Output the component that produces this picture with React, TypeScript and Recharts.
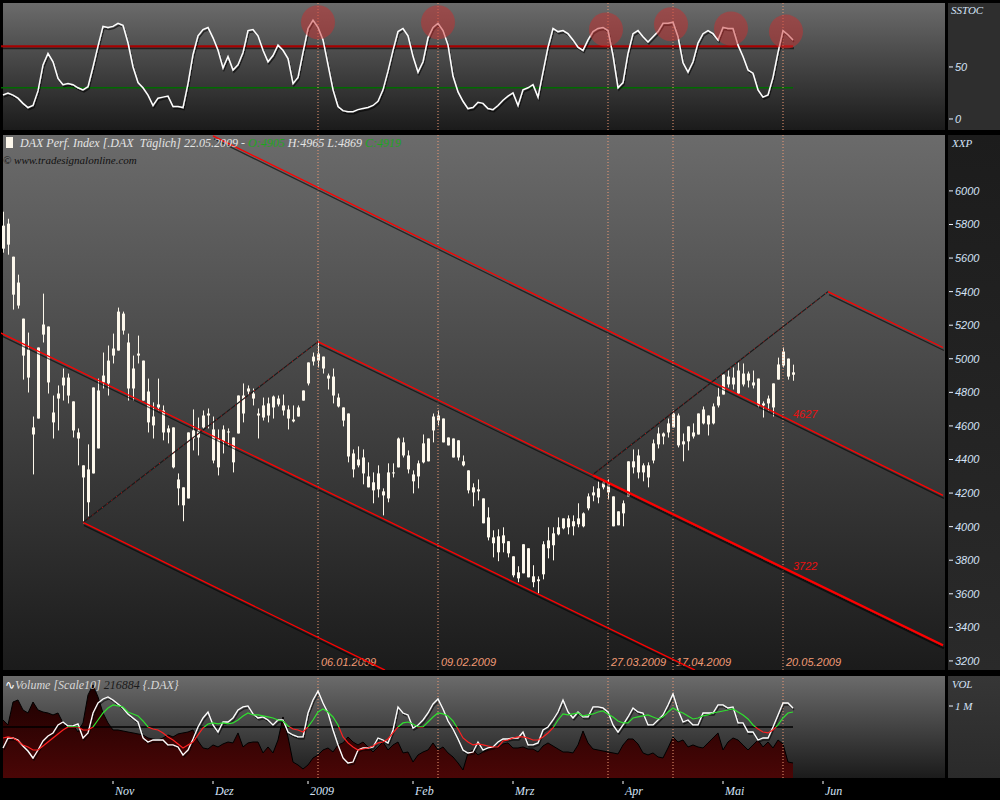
import React from 'react';
import { ComposedChart, Line, Bar, Area, XAxis, YAxis, ReferenceLine, ReferenceDot } from 'recharts';

// x = trading-day index, 0 = first bar (early Oct 2008), 158 = 22.05.2009
const opens = [
  5793, 5805, 5608, 5454, 5239, 5055, 4591, 4644, 5204, 5192,
  4680, 4793, 4888, 4888, 4746, 4561, 4365, 4341, 4317, 4466,
  4900, 4853, 5019, 5049, 5269, 5097, 4942, 5031, 4989, 4805,
  4656, 4728, 4692, 4585, 4591, 4281, 4234, 4168, 4573, 4573,
  4591, 4662, 4579, 4519, 4508, 4567, 4531, 4555, 4781, 4805,
  4793, 4674, 4650, 4662, 4710, 4763, 4722, 4698, 4638, 4656,
  4751, 4853, 4984, 5031, 5013, 4900, 4894, 4769, 4710, 4674,
  4436, 4365, 4412, 4299, 4264, 4222, 4210, 4168, 4323, 4353,
  4502, 4424, 4311, 4299, 4383, 4389, 4573, 4662, 4644, 4531,
  4525, 4514, 4389, 4335, 4234, 4222, 4168, 4055, 3936, 3942,
  3948, 3913, 3823, 3728, 3722, 3871, 3704, 3686, 3716, 3871,
  3889, 3954, 3990, 4049, 4002, 4014, 4002, 4109, 4186, 4174,
  4234, 4258, 4180, 4091, 4079, 4180, 4389, 4323, 4365, 4365,
  4394, 4490, 4537, 4561, 4591, 4662, 4490, 4508, 4561, 4549,
  4698, 4609, 4615, 4722, 4787, 4894, 4847, 4930, 4847, 4912,
  4859, 4882, 4722, 4734, 4710, 4876, 4960, 5001, 4905,
];
const highs = [
  5876, 5834, 5608, 5501, 5239, 5156, 4656, 5067, 5388, 5192,
  4781, 4841, 4942, 4912, 4746, 4585, 4365, 4490, 4829, 4882,
  5037, 5079, 5150, 5305, 5281, 5150, 5019, 5138, 4989, 4882,
  4740, 4882, 4722, 4603, 4591, 4317, 4234, 4561, 4698, 4650,
  4692, 4704, 4656, 4579, 4603, 4585, 4531, 4781, 4853, 4841,
  4823, 4704, 4769, 4769, 4781, 4781, 4787, 4722, 4722, 4722,
  4811, 4978, 5037, 5108, 5013, 4912, 4942, 4793, 4710, 4674,
  4460, 4478, 4460, 4383, 4323, 4365, 4228, 4377, 4377, 4531,
  4531, 4454, 4335, 4394, 4549, 4525, 4674, 4692, 4644, 4531,
  4525, 4514, 4424, 4335, 4258, 4281, 4168, 4115, 3978, 3984,
  3996, 3913, 3823, 3764, 3895, 3871, 3770, 3704, 3913, 3996,
  3996, 4055, 4049, 4067, 4067, 4139, 4085, 4198, 4240, 4270,
  4270, 4281, 4180, 4091, 4156, 4389, 4460, 4460, 4377, 4383,
  4519, 4591, 4561, 4644, 4692, 4674, 4555, 4597, 4615, 4674,
  4716, 4662, 4734, 4829, 4906, 4930, 4948, 4978, 4972, 4924,
  4930, 4882, 4746, 4781, 4853, 5007, 5067, 5001, 4965,
];
const lows = [
  5632, 5620, 5293, 5299, 4876, 4799, 4311, 4644, 5097, 4793,
  4525, 4573, 4751, 4734, 4531, 4365, 4020, 4061, 4317, 4466,
  4823, 4781, 4972, 5049, 5144, 4751, 4751, 4972, 4751, 4561,
  4525, 4692, 4514, 4496, 4347, 4127, 4032, 4168, 4454, 4424,
  4585, 4585, 4377, 4305, 4436, 4484, 4323, 4555, 4621, 4781,
  4722, 4525, 4632, 4621, 4644, 4716, 4662, 4579, 4621, 4656,
  4751, 4841, 4960, 4948, 4912, 4817, 4734, 4710, 4597, 4383,
  4293, 4353, 4252, 4234, 4139, 4174, 4067, 4145, 4293, 4353,
  4412, 4317, 4198, 4228, 4377, 4389, 4502, 4603, 4502, 4484,
  4412, 4394, 4359, 4198, 4121, 4156, 4020, 3918, 3817, 3794,
  3847, 3817, 3698, 3669, 3722, 3698, 3639, 3603, 3686, 3811,
  3799, 3948, 3984, 3954, 3948, 3996, 3996, 4097, 4151, 4139,
  4222, 4162, 4002, 4008, 4002, 4180, 4317, 4287, 4270, 4234,
  4377, 4466, 4490, 4531, 4591, 4472, 4389, 4454, 4525, 4549,
  4609, 4543, 4609, 4710, 4787, 4829, 4817, 4793, 4835, 4829,
  4823, 4710, 4650, 4692, 4656, 4876, 4948, 4876, 4869,
];
const closes = [
  5656, 5680, 5382, 5317, 5019, 4888, 4549, 5067, 5144, 4859,
  4621, 4763, 4841, 4781, 4573, 4525, 4293, 4145, 4829, 4811,
  4859, 4989, 5061, 5281, 5168, 4823, 4823, 5019, 4751, 4621,
  4603, 4710, 4561, 4561, 4353, 4228, 4127, 4561, 4525, 4531,
  4662, 4674, 4394, 4353, 4579, 4561, 4383, 4781, 4674, 4823,
  4763, 4662, 4722, 4734, 4775, 4728, 4692, 4644, 4627, 4710,
  4811, 4978, 5013, 4989, 4942, 4882, 4781, 4716, 4632, 4418,
  4341, 4400, 4317, 4234, 4216, 4317, 4186, 4323, 4317, 4525,
  4424, 4341, 4270, 4377, 4496, 4525, 4656, 4632, 4502, 4484,
  4412, 4412, 4365, 4216, 4204, 4210, 4020, 3936, 3901, 3847,
  3901, 3841, 3710, 3692, 3895, 3698, 3669, 3675, 3895, 3918,
  3960, 3996, 4049, 3996, 4032, 4049, 4079, 4180, 4204, 4228,
  4264, 4204, 4002, 4008, 4139, 4389, 4353, 4424, 4323, 4293,
  4496, 4555, 4555, 4615, 4674, 4484, 4508, 4597, 4537, 4674,
  4615, 4662, 4716, 4775, 4906, 4847, 4888, 4793, 4912, 4870,
  4841, 4722, 4734, 4763, 4853, 4966, 5043, 4894, 4919,
];

// slow stochastic
const sstoc = [
  23, 25, 23, 20, 15, 11, 13, 27, 52, 63,
  55, 39, 33, 34, 33, 30, 28, 31, 50, 70,
  89, 88, 89, 92, 90, 73, 50, 35, 30, 23,
  13, 20, 21, 22, 12, 12, 11, 34, 62, 80,
  86, 88, 78, 66, 49, 60, 47, 52, 64, 85,
  86, 80, 66, 55, 61, 71, 66, 58, 34, 40,
  64, 87, 95, 88, 76, 52, 28, 12, 8, 7,
  7, 9, 10, 11, 13, 17, 28, 46, 66, 84,
  87, 80, 60, 45, 55, 78, 88, 92, 85, 71,
  41, 26, 17, 10, 11, 16, 15, 10, 9, 13,
  18, 22, 25, 13, 28, 30, 33, 21, 45, 69,
  87, 84, 85, 82, 76, 69, 66, 76, 84, 87,
  88, 85, 61, 30, 35, 63, 82, 85, 79, 74,
  79, 84, 92, 92, 93, 79, 54, 45, 55, 73,
  82, 85, 82, 76, 88, 87, 87, 71, 60, 47,
  44, 28, 21, 23, 40, 64, 85, 81, 76,
];

// volume in thousands
const volume = [
  806, 737, 1056, 1084, 945, 903, 1056, 945, 917, 903,
  876, 903, 765, 695, 737, 639, 765, 1154, 1293, 1126,
  903, 765, 667, 667, 653, 639, 626, 612, 598, 556,
  542, 528, 556, 598, 570, 612, 626, 639, 667, 514,
  417, 403, 459, 431, 473, 500, 487, 626, 431, 487,
  500, 500, 348, 431, 348, 528, 848, 570, 222, 181,
  125, 181, 278, 320, 389, 417, 361, 459, 487, 570,
  500, 459, 500, 431, 361, 431, 500, 389, 459, 500,
  348, 361, 222, 320, 361, 389, 487, 389, 431, 348,
  292, 209, 111, 348, 389, 320, 361, 403, 431, 417,
  473, 487, 417, 417, 431, 403, 403, 361, 445, 487,
  445, 403, 361, 361, 348, 459, 653, 487, 403, 389,
  375, 361, 348, 334, 459, 542, 542, 473, 348, 320,
  348, 292, 278, 417, 570, 500, 528, 431, 459, 431,
  417, 487, 556, 626, 389, 500, 556, 528, 459, 389,
  459, 528, 431, 500, 417, 528, 473, 222, 209,
];
const volLine = [
  417, 556, 556, 528, 445, 375, 278, 389, 514, 584,
  626, 737, 778, 723, 723, 751, 556, 626, 903, 1042,
  1098, 1126, 1084, 1029, 973, 890, 834, 778, 556, 500,
  528, 528, 528, 459, 459, 431, 320, 389, 542, 709,
  834, 917, 737, 639, 778, 778, 834, 945, 987, 1001,
  890, 834, 848, 806, 737, 806, 806, 639, 598, 570,
  570, 903, 1084, 1209, 1042, 903, 667, 459, 278, 209,
  222, 389, 417, 417, 431, 556, 528, 487, 667, 987,
  903, 876, 695, 737, 806, 903, 1029, 1098, 959, 792,
  681, 542, 389, 348, 361, 500, 389, 417, 431, 500,
  542, 542, 556, 556, 639, 459, 459, 487, 667, 709,
  806, 917, 1084, 917, 834, 917, 848, 848, 987, 987,
  973, 917, 737, 639, 737, 848, 973, 917, 903, 737,
  737, 806, 876, 1015, 1168, 945, 778, 806, 737, 737,
  903, 903, 903, 1015, 1015, 973, 987, 765, 765, 639,
  639, 528, 556, 556, 709, 876, 1042, 1042, 973,
];
const volAvg = [
  556, 570, 556, 514, 459, 431, 389, 389, 445, 500,
  556, 612, 667, 709, 709, 709, 667, 667, 709, 806,
  903, 973, 1015, 1001, 987, 917, 890, 862, 792, 709,
  681, 667, 626, 570, 528, 473, 417, 459, 500, 598,
  695, 751, 765, 751, 765, 751, 765, 806, 862, 903,
  876, 876, 862, 848, 834, 806, 792, 723, 681, 667,
  639, 709, 806, 917, 959, 917, 848, 737, 570, 487,
  431, 389, 403, 417, 445, 487, 500, 542, 626, 709,
  765, 778, 751, 709, 709, 778, 848, 903, 890, 862,
  792, 681, 556, 500, 459, 473, 459, 445, 431, 431,
  514, 528, 556, 570, 570, 556, 528, 528, 570, 626,
  695, 806, 890, 876, 890, 903, 862, 876, 890, 917,
  931, 890, 848, 792, 765, 765, 834, 848, 862, 876,
  848, 820, 848, 917, 973, 931, 903, 862, 820, 834,
  862, 876, 903, 917, 931, 945, 959, 917, 876, 820,
  737, 681, 639, 626, 667, 737, 834, 903, 917,
];

const monthTicks = [22, 42, 61, 82, 102, 124, 144, 164];
const monthLabels = ['Nov', 'Dez', '2009', 'Feb', 'Mrz', 'Apr', 'Mai', 'Jun'];
const priceTicks = [3200, 3400, 3600, 3800, 4000, 4200, 4400, 4600, 4800, 5000, 5200, 5400, 5600, 5800, 6000];
const stocTicks = [0, 50];
const volTicks = [1000];

const markerIdx = [63, 87, 121, 134, 156];
const markerLabels = ['06.01.2009', '09.02.2009', '27.03.2009', '17.04.2009', '20.05.2009'];
const peakIdx = [63, 87, 120.6, 133.6, 145.6, 156.6];
const peakVals = [93, 93, 86, 91, 87, 84];

const STOC_HIGH = 70;
const STOC_LOW = 30;
const VOL_LEVEL = 709;

// trend channels, [index, price] pairs
const channels = [
  [[42, 6328], [188, 4186]],
  [[-0.6, 5156], [138.4, 3145]],
  [[16, 4025], [76.4, 3145]],
  [[165, 5400], [188, 5067]],
  [[63, 5102], [118, 4306]],
];
const heavyChannel = [[118, 4306], [188, 3293]];
const pitchLines = [
  [[16, 4025], [63, 5102]],
  [[118, 4311], [165, 5400]],
];
const levelIdx = 158;
const levelVals = [4627, 3722];

const W = 1000;
const AXIS_W = 54;
const X_DOMAIN: [number, number] = [-0.4, 188.6];
const PRICE_DOMAIN: [number, number] = [3146, 6333];
const STOC_DOMAIN: [number, number] = [-10.6, 111.5];
const VOL_DOMAIN: [number, number] = [0, 1417];
const VOL_PLOT_H = 102;

const CANDLE = '#fdf8ec';
const AXIS_TXT = '#d4e2f6';
const MARKER = '#f09a74';
const CHANNEL = '#ff0000';
const SANS = '"Liberation Sans", Arial, sans-serif';
const SERIF = '"Liberation Serif", "Times New Roman", serif';

const last = closes.length - 1;
const priceRows = opens.map((o, i) => ({ i, o, h: highs[i], l: lows[i], c: closes[i], range: [lows[i], highs[i]] }));
const stocRows = sstoc.map((v, i) => ({ i, v }));
const volRows = volume.map((v, i) => ({ i, v, line: volLine[i], avg: volAvg[i] }));
const thr = 1 - VOL_LEVEL / VOL_DOMAIN[1];

const seg = (s: number[][]) => [{ x: s[0][0], y: s[0][1] }, { x: s[1][0], y: s[1][1] }];

function Candle(props: any) {
  const { x, y, width, height, payload } = props;
  if (!payload || height == null) return null;
  const { o, h, l, c } = payload;
  const k = height / (h - l);
  const cx = Math.round(x + width / 2) + 0.5;
  const top = y + (h - Math.max(o, c)) * k;
  const bot = y + (h - Math.min(o, c)) * k;
  return (
    <g>
      <line x1={cx} x2={cx} y1={y} y2={y + height} stroke={CANDLE} strokeWidth={1} />
      <rect x={cx - 1.5} y={top} width={3} height={Math.max(1, bot - top)} fill={CANDLE} />
    </g>
  );
}

function AxisTick(props: any) {
  const { x, y, payload, unit } = props;
  const txt = unit ? `${payload.value / 1000} M` : payload.value;
  return (
    <g>
      <line x1={x + 3} x2={x + 7} y1={y} y2={y} stroke="#eef4ff" />
      <text x={x + 9} y={y + 4} fill={AXIS_TXT} fontSize={11} fontStyle="italic" fontFamily={unit ? SERIF : SANS}>{txt}</text>
    </g>
  );
}

function MonthTick(props: any) {
  const { x, y, payload } = props;
  const k = monthTicks.indexOf(payload.value);
  return (
    <g>
      <line x1={x} x2={x} y1={y + 3} y2={y + 6} stroke="#ffffff" />
      <text x={x + 2} y={y + 17} fill={AXIS_TXT} fontSize={12} fontStyle="italic" fontFamily={SERIF}>{monthLabels[k]}</text>
    </g>
  );
}

const shadow = (id: string, h: number, dy = 3) => (
  <filter id={id} filterUnits="userSpaceOnUse" x={-20} y={-20} width={1040} height={h + 40}>
    <feDropShadow dx={1} dy={dy} stdDeviation={0.7} floodColor="#000" floodOpacity={0.6} />
  </filter>
);

const panel = (top: number, h: number): React.CSSProperties => ({
  position: 'absolute', left: 3, top, width: 942, height: h,
  background: 'linear-gradient(#6b6b6b, #1b1b1b)',
});
const strip = (top: number, h: number, bg: string): React.CSSProperties => ({
  position: 'absolute', left: 948, top, width: 52, height: h, background: bg,
});
const abs = (left: number, top: number): React.CSSProperties => ({ position: 'absolute', left, top });
const sideLabel: React.CSSProperties = { font: `italic 11px ${SERIF}`, color: AXIS_TXT, whiteSpace: 'pre' };

export default function App() {
  return (
    <div style={{ position: 'absolute', left: 0, top: 0, width: W, height: 800, background: '#000', overflow: 'hidden' }}>
      <div style={panel(3, 127)} />
      <div style={panel(135, 535)} />
      <div style={panel(676, 102)} />
      <div style={strip(3, 127, '#2e2e2e')} />
      <div style={strip(135, 535, 'linear-gradient(#1c1c1c, #2a2a2a)')} />
      <div style={strip(676, 102, 'linear-gradient(#363636, #2a2a2a)')} />

      {/* SSTOC */}
      <div style={abs(0, 3)}>
        <ComposedChart width={W} height={127} data={stocRows} margin={{ top: 0, right: 0, bottom: 0, left: 1 }}>
          <defs>{shadow('shStoc', 127, 2)}</defs>
          <XAxis type="number" dataKey="i" domain={X_DOMAIN} allowDataOverflow hide />
          <YAxis orientation="right" width={AXIS_W} domain={STOC_DOMAIN} allowDataOverflow ticks={stocTicks} interval={0}
            tick={(p: any) => <AxisTick {...p} />} tickSize={0} tickMargin={0} axisLine={false} tickLine={false} />
          <ReferenceLine segment={[{ x: X_DOMAIN[0], y: STOC_HIGH }, { x: last, y: STOC_HIGH }]} stroke="#a80000" strokeWidth={2} filter="url(#shStoc)" ifOverflow="hidden" />
          <ReferenceLine segment={[{ x: X_DOMAIN[0], y: STOC_LOW }, { x: last, y: STOC_LOW }]} stroke="#006a00" strokeWidth={1.5} ifOverflow="hidden" />
          {markerIdx.map((m) => (
            <ReferenceLine key={m} x={m} stroke={MARKER} strokeDasharray="1 2" />
          ))}
          <Line dataKey="v" type="linear" stroke="#ffffff" strokeWidth={1.5} dot={false} isAnimationActive={false} filter="url(#shStoc)" />
          {peakIdx.map((p, k) => (
            <ReferenceDot key={k} x={p} y={peakVals[k]} r={17} fill="#c83030" fillOpacity={0.5} stroke="none" ifOverflow="visible" />
          ))}
        </ComposedChart>
      </div>

      {/* price */}
      <div style={abs(0, 135)}>
        <ComposedChart width={W} height={535} data={priceRows} margin={{ top: 0, right: 0, bottom: 0, left: 1 }}>
          <defs>{shadow('shMain', 535)}</defs>
          <XAxis type="number" dataKey="i" domain={X_DOMAIN} allowDataOverflow hide />
          <YAxis orientation="right" width={AXIS_W} domain={PRICE_DOMAIN} allowDataOverflow ticks={priceTicks} interval={0}
            tick={(p: any) => <AxisTick {...p} />} tickSize={0} tickMargin={0} axisLine={false} tickLine={false} />
          {markerIdx.map((m, k) => (
            <ReferenceLine key={m} x={m} stroke={MARKER} strokeDasharray="1 2"
              label={(p: any) => (
                <text x={p.viewBox.x + 3} y={p.viewBox.y + p.viewBox.height - 4} fill={MARKER} fontSize={11} fontStyle="italic" fontFamily={SANS}>
                  {markerLabels[k]}
                </text>
              )} />
          ))}
          {channels.map((s, k) => (
            <ReferenceLine key={`c${k}`} segment={seg(s)} stroke={CHANNEL} strokeWidth={1.3} filter="url(#shMain)" ifOverflow="hidden" />
          ))}
          <ReferenceLine segment={seg(heavyChannel)} stroke={CHANNEL} strokeWidth={2.2} filter="url(#shMain)" ifOverflow="hidden" />
          {pitchLines.map((s, k) => (
            <ReferenceLine key={`p${k}`} segment={seg(s)} stroke="#1a1a1a" strokeWidth={1.2} ifOverflow="hidden" />
          ))}
          {pitchLines.map((s, k) => (
            <ReferenceLine key={`q${k}`} segment={seg(s)} stroke="#e01010" strokeWidth={1} strokeDasharray="1 5" ifOverflow="hidden" />
          ))}
          <Bar dataKey="range" barSize={5} shape={(p: any) => <Candle {...p} />} isAnimationActive={false} />
          {levelVals.map((v) => (
            <ReferenceDot key={v} x={levelIdx} y={v} r={1} fill="none" stroke="none"
              label={(p: any) => (
                <text x={p.viewBox.x + 1} y={p.viewBox.y - 2} fill="#e81010" fontSize={11} fontStyle="italic" fontFamily={SANS}>{v}</text>
              )} />
          ))}
        </ComposedChart>
      </div>

      {/* volume */}
      <div style={abs(0, 676)}>
        <ComposedChart width={W} height={124} data={volRows} margin={{ top: 0, right: 0, bottom: 0, left: 1 }}>
          <defs>
            <linearGradient id="volFill" gradientUnits="userSpaceOnUse" x1={0} y1={0} x2={0} y2={VOL_PLOT_H}>
              <stop offset="0" stopColor="#160000" />
              <stop offset="1" stopColor="#4a0606" />
            </linearGradient>
            <linearGradient id="avgStroke" gradientUnits="userSpaceOnUse" x1={0} y1={0} x2={0} y2={VOL_PLOT_H}>
              <stop offset={thr} stopColor="#2ee02e" />
              <stop offset={thr} stopColor="#ff2020" />
            </linearGradient>
            {shadow('shVol', 124, 2)}
          </defs>
          <XAxis type="number" dataKey="i" domain={X_DOMAIN} allowDataOverflow ticks={monthTicks} interval={0} height={22}
            tick={(p: any) => <MonthTick {...p} />} tickSize={0} tickMargin={0} axisLine={false} tickLine={false} />
          <YAxis orientation="right" width={AXIS_W} domain={VOL_DOMAIN} allowDataOverflow ticks={volTicks} interval={0}
            tick={(p: any) => <AxisTick {...p} unit />} tickSize={0} tickMargin={0} axisLine={false} tickLine={false} />
          <Area dataKey="v" type="linear" stroke="#000" strokeWidth={1} fill="url(#volFill)" fillOpacity={1} isAnimationActive={false} />
          {markerIdx.map((m) => (
            <ReferenceLine key={m} x={m} stroke={MARKER} strokeDasharray="1 2" />
          ))}
          <ReferenceLine segment={[{ x: X_DOMAIN[0], y: VOL_LEVEL }, { x: last, y: VOL_LEVEL }]} stroke="#000" strokeWidth={1.5} ifOverflow="hidden" />
          <Line dataKey="line" type="linear" stroke="#ffffff" strokeWidth={1.3} dot={false} isAnimationActive={false} filter="url(#shVol)" />
          <Line dataKey="avg" type="linear" stroke="url(#avgStroke)" strokeWidth={1.2} dot={false} isAnimationActive={false} />
        </ComposedChart>
      </div>

      {/* texts */}
      <div style={{ ...abs(951, 4), ...sideLabel }}>SSTOC</div>
      <div style={{ ...abs(952, 137), ...sideLabel }}>XXP</div>
      <div style={{ ...abs(952, 678), ...sideLabel }}>VOL</div>
      <div style={{ ...abs(6, 136), font: `italic 12px ${SERIF}`, color: '#e4e4e4', whiteSpace: 'pre' }}>
        <span style={{ display: 'inline-block', width: 7, height: 11, background: '#fdf8ec', marginRight: 7, verticalAlign: -1 }} />
        {'DAX Perf. Index [.DAX  Täglich] 22.05.2009 - '}
        <span style={{ color: '#1fa51f' }}>O:4905</span>
        {' H:4965 L:4869 '}
        <span style={{ color: '#1fa51f' }}>C:4919</span>
      </div>
      <div style={{ ...abs(3, 154), font: `italic 11px ${SERIF}`, color: '#111', whiteSpace: 'pre' }}>© www.tradesignalonline.com</div>
      <div style={{ ...abs(5, 678), font: `italic 12px ${SERIF}`, color: '#d8d8d8', whiteSpace: 'pre' }}>
        <span style={{ fontFamily: '"DejaVu Sans"', fontStyle: 'normal', color: '#fff' }}>∿</span>
        {'Volume [Scale10] '}
        <span style={{ color: '#1a1a1a' }}>216884</span>
        {' {.DAX}'}
      </div>
    </div>
  );
}
